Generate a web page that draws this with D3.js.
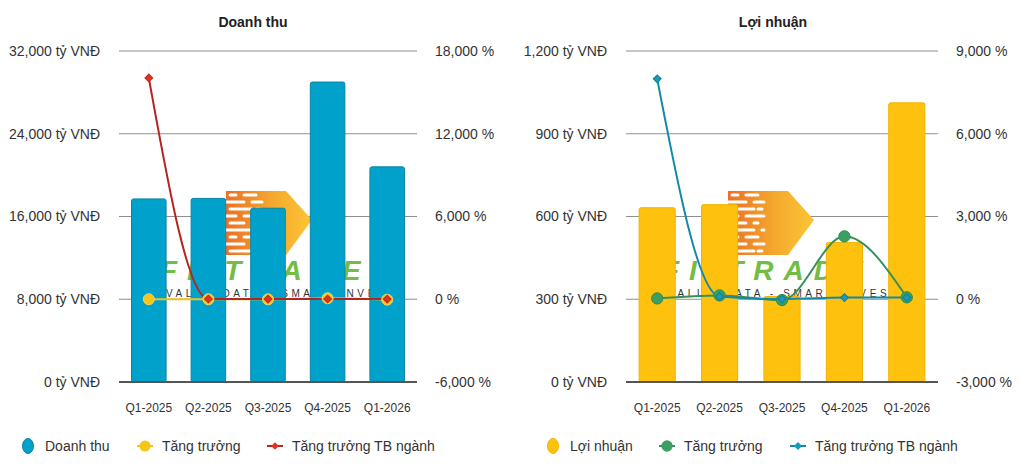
<!DOCTYPE html>
<html lang="vi">
<head>
    <meta charset="UTF-8">
    <title>Doanh thu - Lợi nhuận</title>
    <script src="https://cdn.jsdelivr.net/npm/d3@7"></script>
    <style>
        html, body {
            margin: 0;
            background: #fff;
        }

        text {
            font-family: "Liberation Sans", Arial, sans-serif;
        }
    </style>
</head>
<body>
<div class="chart"></div>

<script>
    // data
    var quarters = ["Q1-2025", "Q2-2025", "Q3-2025", "Q4-2025", "Q1-2026"];

    var revenue = [17700, 17750, 16800, 29000, 20800];
    var revenueGrowth = [0, 0.3, -5.4, 72.6, -28.3];
    var revenueIndustry = [16050, 20, 10, 15, 12];

    var profit = [632, 643, 310, 506, 1012];
    var profitGrowth = [30, 140, -30, 2280, 70];
    var profitIndustry = [7990, 100, 5, 60, 60];

    var revenueTicks = [0, 8000, 16000, 24000, 32000];
    var revenuePctTicks = [-6000, 0, 6000, 12000, 18000];
    var profitTicks = [0, 300, 600, 900, 1200];
    var profitPctTicks = [-3000, 0, 3000, 6000, 9000];

    var locale = d3.formatLocale({decimal: ".", thousands: ",", grouping: [3], currency: ["", ""], minus: "-"});
    var fmt = locale.format(",");

    var svg = d3.select('.chart').append('svg').attr('width', 1024).attr('height', 468);

    var defs = svg.append('defs');
    var grad = defs.append('linearGradient').attr('id', 'logoGrad')
        .attr('x1', '0%').attr('x2', '100%').attr('y1', '0%').attr('y2', '0%');
    grad.append('stop').attr('offset', '0%').attr('stop-color', '#ec6f25');
    grad.append('stop').attr('offset', '55%').attr('stop-color', '#f5a92e');
    grad.append('stop').attr('offset', '100%').attr('stop-color', '#fcc535');

    var plotTop = 51, plotBottom = 382;

    // FiTrade watermark, sits behind the bars
    function drawLogo(g, tx) {
        var ax = tx + 62;
        g.append('path')
            .attr('d', 'M' + (ax + 4) + ',191 L' + (ax + 64) + ',191 L' + (ax + 90) + ',220 L' + (ax + 64) + ',255 L' + (ax + 4) + ',255 Z')
            .attr('fill', 'url(#logoGrad)');
        var rows = [195, 202, 209, 216, 223, 230, 237, 244, 251];
        rows.forEach(function (ry, i) {
            g.append('line')
                .attr('x1', ax + (i % 2 ? 2 : 8)).attr('x2', ax + 14 + (i % 3) * 8)
                .attr('y1', ry).attr('y2', ry)
                .attr('stroke', '#fff').attr('stroke-width', 3).attr('stroke-linecap', 'round');
            g.append('line')
                .attr('x1', ax + 22 + (i % 3) * 8).attr('x2', ax + 34 + (i % 2) * 6)
                .attr('y1', ry).attr('y2', ry)
                .attr('stroke', '#fff').attr('stroke-width', 3).attr('stroke-linecap', 'round');
        });
        g.append('text')
            .attr('x', tx).attr('y', 280)
            .attr('font-size', 28).attr('font-weight', 'bold').attr('font-style', 'italic')
            .attr('letter-spacing', 10)
            .attr('fill', '#74bd44')
            .text('FI-TRADE');
        g.append('text')
            .attr('x', tx + 6).attr('y', 297)
            .attr('font-size', 10).attr('letter-spacing', 3.6)
            .attr('fill', '#333')
            .text('VALUE DATA - SMART INVEST');
    }

    function drawPanel(p) {
        var g = svg.append('g');

        var x = d3.scaleBand().domain(quarters).range([p.left, p.right]).paddingInner(0.42).paddingOuter(0.21);
        var y = d3.scaleLinear().domain([p.ticks[0], p.ticks[p.ticks.length - 1]]).range([plotBottom, plotTop]);
        var y2 = d3.scaleLinear().domain([p.pctTicks[0], p.pctTicks[p.pctTicks.length - 1]]).range([plotBottom, plotTop]);

        // title
        g.append('text')
            .attr('x', p.titleX).attr('y', 27)
            .attr('text-anchor', 'middle')
            .attr('font-size', 14).attr('font-weight', 'bold').attr('fill', '#222')
            .text(p.title);

        // grid
        g.selectAll('.grid')
            .data(p.ticks.slice(1))
            .enter().append('line')
            .attr('x1', p.left).attr('x2', p.right)
            .attr('y1', function (d) { return y(d); })
            .attr('y2', function (d) { return y(d); })
            .attr('stroke', '#8f8f8f').attr('stroke-width', 1);

        drawLogo(g, p.logoX);

        // bars
        g.selectAll('.bar')
            .data(p.bars)
            .enter().append('rect')
            .attr('x', function (d, i) { return x(quarters[i]); })
            .attr('y', function (d) { return y(d); })
            .attr('width', x.bandwidth())
            .attr('height', function (d) { return plotBottom - y(d); })
            .attr('rx', 2)
            .attr('fill', p.barColor)
            .attr('stroke', p.barStroke).attr('stroke-width', 1);

        g.append('line')
            .attr('x1', p.left).attr('x2', p.right)
            .attr('y1', plotBottom).attr('y2', plotBottom)
            .attr('stroke', '#555').attr('stroke-width', 2);

        // axes
        var yAxis = d3.axisLeft(y).tickValues(p.ticks).tickSize(0).tickPadding(19)
            .tickFormat(function (d) { return fmt(d) + ' tỷ VNĐ'; });
        var y2Axis = d3.axisRight(y2).tickValues(p.pctTicks).tickSize(0).tickPadding(18)
            .tickFormat(function (d) { return fmt(d) + ' %'; });
        var xAxis = d3.axisBottom(x).tickSize(0).tickPadding(21);

        var ga = g.append('g').attr('transform', 'translate(' + p.left + ',0)').call(yAxis);
        var gb = g.append('g').attr('transform', 'translate(' + p.right + ',0)').call(y2Axis);
        var gc = g.append('g').attr('transform', 'translate(0,' + plotBottom + ')').call(xAxis);
        [ga, gb].forEach(function (a) {
            a.select('.domain').remove();
            a.selectAll('text').attr('font-size', 14).attr('fill', '#333')
                .attr('font-family', '"Liberation Sans", Arial, sans-serif');
        });
        gc.select('.domain').remove();
        gc.selectAll('text').attr('font-size', 12).attr('fill', '#333')
            .attr('font-family', '"Liberation Sans", Arial, sans-serif');

        // lines
        var line = d3.line()
            .x(function (d, i) { return x(quarters[i]) + x.bandwidth() / 2; })
            .y(function (d) { return y2(d); })
            .curve(d3.curveMonotoneX);

        p.lines.forEach(function (s) {
            g.append('path').attr('d', line(s.values))
                .attr('fill', 'none').attr('stroke', s.color).attr('stroke-width', 2);
        });
        p.lines.forEach(function (s) {
            var sym = d3.symbol().type(s.marker === 'circle' ? d3.symbolCircle : d3.symbolSquare).size(s.size);
            g.selectAll(null)
                .data(s.values)
                .enter().append('path')
                .attr('d', sym)
                .attr('transform', function (d, i) {
                    return 'translate(' + (x(quarters[i]) + x.bandwidth() / 2) + ',' + y2(d) + ')' + (s.marker === 'circle' ? '' : ' rotate(45)');
                })
                .attr('fill', s.markerFill)
                .attr('stroke', s.markerStroke).attr('stroke-width', 1);
        });

        // legend
        var ly = 446;
        var lg = g.append('g');
        lg.append('ellipse')
            .attr('cx', p.legendX[0]).attr('cy', ly).attr('rx', 5.5).attr('ry', 7.5)
            .attr('fill', p.barColor).attr('stroke', p.barStroke);
        lg.append('text').attr('x', p.legendX[0] + 17).attr('y', ly + 5)
            .attr('font-size', 14).attr('fill', '#333').text(p.barName);
        p.lines.forEach(function (s, i) {
            var cx = p.legendX[i + 1];
            lg.append('line').attr('x1', cx - 8).attr('x2', cx + 8).attr('y1', ly).attr('y2', ly)
                .attr('stroke', s.color).attr('stroke-width', 2);
            var sym = d3.symbol().type(s.marker === 'circle' ? d3.symbolCircle : d3.symbolSquare).size(s.size);
            lg.append('path').attr('d', sym)
                .attr('transform', 'translate(' + cx + ',' + ly + ')' + (s.marker === 'circle' ? '' : ' rotate(45)'))
                .attr('fill', s.markerFill);
            lg.append('text').attr('x', cx + 17).attr('y', ly + 5)
                .attr('font-size', 14).attr('fill', '#333').text(s.name);
        });
    }

    drawPanel({
        left: 119, right: 417, titleX: 253, title: 'Doanh thu', logoX: 160,
        ticks: revenueTicks, pctTicks: revenuePctTicks,
        bars: revenue, barName: 'Doanh thu', barColor: '#00a2cb', barStroke: '#0a84a6',
        lines: [
            {name: 'Tăng trưởng', values: revenueGrowth, color: '#f2c21b', markerFill: '#f5c518', marker: 'circle', size: 95, markerStroke: '#f1d36a'},
            {name: 'Tăng trưởng TB ngành', values: revenueIndustry, color: '#b5241f', markerFill: '#e0331f', marker: 'diamond', size: 30, markerStroke: '#c02a1e'}
        ],
        legendX: [28, 145, 275]
    });

    drawPanel({
        left: 626, right: 938, titleX: 773, title: 'Lợi nhuận', logoX: 662,
        ticks: profitTicks, pctTicks: profitPctTicks,
        bars: profit, barName: 'Lợi nhuận', barColor: '#fec10e', barStroke: '#f2b400',
        lines: [
            {name: 'Tăng trưởng', values: profitGrowth, color: '#35915a', markerFill: '#3c9e63', marker: 'circle', size: 100, markerStroke: '#2f8a54'},
            {name: 'Tăng trưởng TB ngành', values: profitIndustry, color: '#118aa8', markerFill: '#1799b8', marker: 'diamond', size: 32, markerStroke: '#0f7f9a'}
        ],
        legendX: [553, 667, 798]
    });
</script>
</body>
</html>
